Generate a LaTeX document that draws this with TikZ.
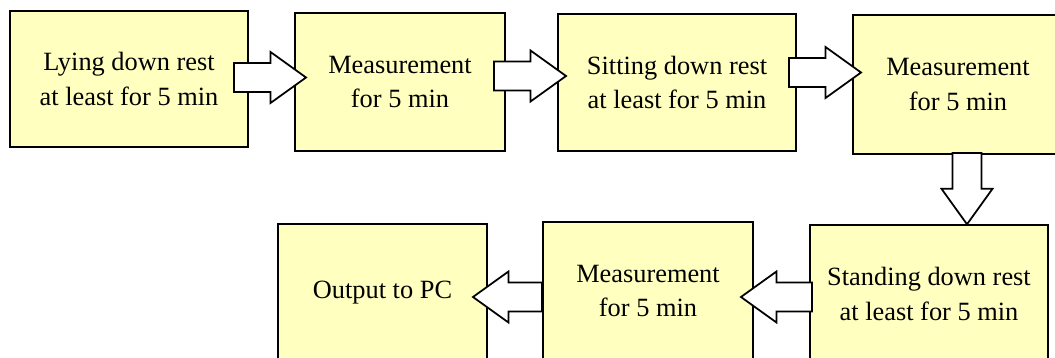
\documentclass[tikz,border=0pt]{standalone}
\usepackage{fontspec}
\setmainfont{Liberation Serif}
\usepackage{tikz}
\usetikzlibrary{calc}
\definecolor{stepc}{RGB}{255,255,192}
\tikzset{
  stage/.style={rectangle,draw=black,line width=1.1pt,fill=stepc,inner sep=0pt,align=center,
    font=\fontsize{15}{19.4}\selectfont},
  wide/.style={minimum width=4.76cm,minimum height=2.75cm},
  narrow/.style={minimum width=4.2cm,minimum height=2.75cm},
  fat/.style={draw=black,fill=white,line width=1pt,line join=miter},
}
% block arrow from tail #1 to tip #2
\newcommand\fatarrow[2]{%
  \path (#1) coordinate (t) (#2) coordinate (h);
  \coordinate (hb) at ($(h)!0.71cm!(t)$);
  \draw[fat] ($(t)!0.29cm!90:(h)$) -- ($(hb)!0.29cm!-90:(t)$) -- ($(hb)!0.51cm!-90:(t)$)
    -- (h) -- ($(hb)!0.51cm!90:(t)$) -- ($(hb)!0.29cm!90:(t)$) -- ($(t)!0.29cm!-90:(h)$) -- cycle;
}

\begin{document}
\begin{tikzpicture}
  \clip (0,0) rectangle (21.1,-7.16);
  \fill[white] (0,0) rectangle (21.1,-7.16);
  % upper row
  \node[stage,wide,minimum height=2.72cm](b1) at (2.58,-1.58){Lying down rest\\at least for 5 min};
  \node[stage,narrow,minimum height=2.76cm](b2) at (8.00,-1.64){Measurement\\for 5 min};
  \node[stage,wide,minimum height=2.74cm](b3) at (13.54,-1.65){Sitting down rest\\at least for 5 min};
  \node[stage,narrow,minimum height=2.78cm](b4) at (19.16,-1.69){Measurement\\for 5 min};
  % lower row
  \node[stage,wide](b5) at (18.58,-5.88){Standing down rest\\at least for 5 min};
  \node[stage,narrow](b6) at (12.96,-5.82){Measurement\\for 5 min};
  \node[stage,narrow,minimum width=4.18cm](b7) at (7.65,-5.86){Output to PC};
  % arrows
  \coordinate (a1) at ($(b1.east)+(-0.30,0.03)$);
  \fatarrow{a1}{$(b2.west |- a1)+(0.24,0)$}
  \coordinate (a2) at ($(b2.east)+(-0.24,0.12)$);
  \fatarrow{a2}{$(b3.west |- a2)+(0.18,0)$}
  \coordinate (a3) at ($(b3.east)+(-0.16,0.20)$);
  \fatarrow{a3}{$(b4.west |- a3)+(0.18,0)$}
  \coordinate (a4) at ($(b4.south)+(0.18,0.04)$);
  \fatarrow{a4}{a4 |- b5.north}
  \coordinate (a5) at ($(b5.west)+(0.06,-0.06)$);
  \fatarrow{a5}{$(b6.east |- a5)+(-0.26,0)$}
  \coordinate (a6) at ($(b6.west)+(0,-0.12)$);
  \fatarrow{a6}{$(b7.east |- a6)+(-0.30,0)$}
\end{tikzpicture}
\end{document}
